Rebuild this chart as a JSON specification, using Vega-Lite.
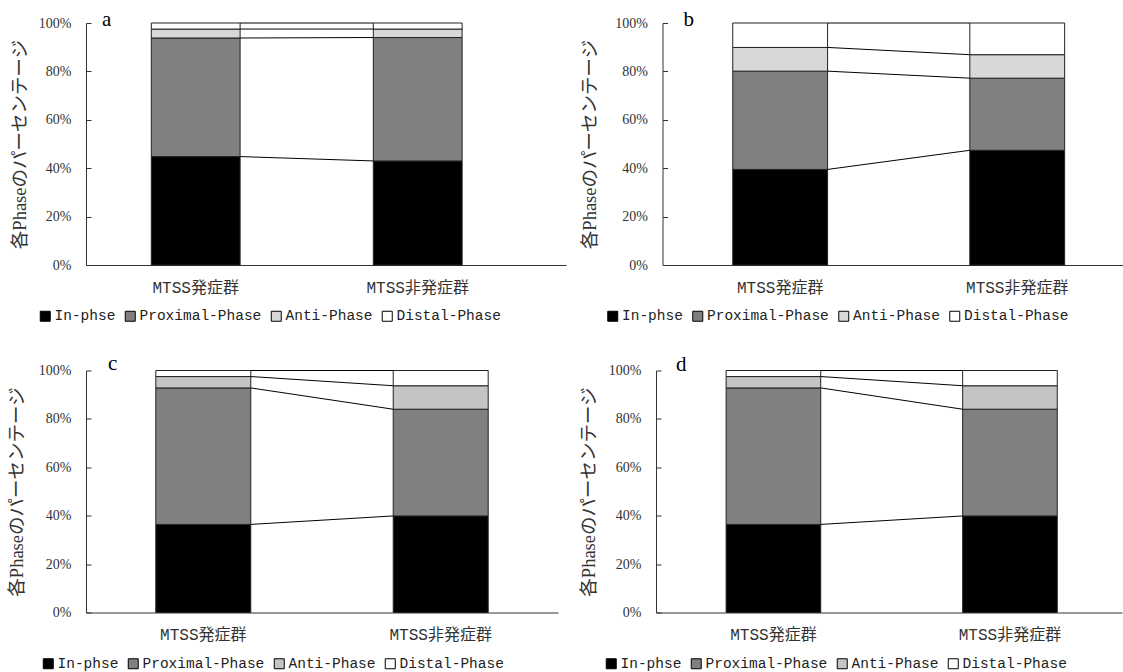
{
  "$schema": "https://vega.github.io/schema/vega-lite/v6.json",
  "background": "white",
  "padding": {"left": 7, "top": 9, "right": 0, "bottom": 0},
  "config": {
    "view": {"stroke": null},
    "axis": {"domainColor": "#333", "tickColor": "#333", "labelColor": "#333", "titleColor": "#333", "grid": false, "titleFontWeight": "normal", "labelFont": "Liberation Serif", "labelFontSize": 14, "titleFont": "Liberation Serif, Noto Sans CJK JP", "titleFontSize": 18.5},
    "axisX": {"ticks": false, "labelFont": "Liberation Mono, Noto Sans CJK JP", "labelFontSize": 16, "labelPadding": 14, "labelAngle": 0},
    "axisY": {"tickSize": -5, "labelPadding": 20},
    "legend": {"orient": "none", "direction": "horizontal", "columns": 4, "symbolType": "square", "symbolSize": 100, "labelFont": "Liberation Mono", "labelFontSize": 14.5, "labelColor": "#222", "columnPadding": 7, "labelOffset": 2, "gridAlign": "none", "padding": 0, "symbolStrokeColor": "#000", "symbolStrokeWidth": 1, "symbolOpacity": 1}
  },
  "datasets": {
    "rows": [
      {"panel": "a", "group": "MTSS発症群", "phase": "In-phse", "k": 1, "value": 44.8},
      {"panel": "a", "group": "MTSS発症群", "phase": "Proximal-Phase", "k": 2, "value": 49.0},
      {"panel": "a", "group": "MTSS発症群", "phase": "Anti-Phase", "k": 3, "value": 3.7},
      {"panel": "a", "group": "MTSS発症群", "phase": "Distal-Phase", "k": 4, "value": 2.5},
      {"panel": "a", "group": "MTSS非発症群", "phase": "In-phse", "k": 1, "value": 43.0},
      {"panel": "a", "group": "MTSS非発症群", "phase": "Proximal-Phase", "k": 2, "value": 51.0},
      {"panel": "a", "group": "MTSS非発症群", "phase": "Anti-Phase", "k": 3, "value": 3.5},
      {"panel": "a", "group": "MTSS非発症群", "phase": "Distal-Phase", "k": 4, "value": 2.5},
      {"panel": "b", "group": "MTSS発症群", "phase": "In-phse", "k": 1, "value": 39.5},
      {"panel": "b", "group": "MTSS発症群", "phase": "Proximal-Phase", "k": 2, "value": 40.6},
      {"panel": "b", "group": "MTSS発症群", "phase": "Anti-Phase", "k": 3, "value": 9.8},
      {"panel": "b", "group": "MTSS発症群", "phase": "Distal-Phase", "k": 4, "value": 10.1},
      {"panel": "b", "group": "MTSS非発症群", "phase": "In-phse", "k": 1, "value": 47.4},
      {"panel": "b", "group": "MTSS非発症群", "phase": "Proximal-Phase", "k": 2, "value": 29.8},
      {"panel": "b", "group": "MTSS非発症群", "phase": "Anti-Phase", "k": 3, "value": 9.7},
      {"panel": "b", "group": "MTSS非発症群", "phase": "Distal-Phase", "k": 4, "value": 13.1},
      {"panel": "c", "group": "MTSS発症群", "phase": "In-phse", "k": 1, "value": 36.4},
      {"panel": "c", "group": "MTSS発症群", "phase": "Proximal-Phase", "k": 2, "value": 56.4},
      {"panel": "c", "group": "MTSS発症群", "phase": "Anti-Phase", "k": 3, "value": 4.7},
      {"panel": "c", "group": "MTSS発症群", "phase": "Distal-Phase", "k": 4, "value": 2.5},
      {"panel": "c", "group": "MTSS非発症群", "phase": "In-phse", "k": 1, "value": 39.9},
      {"panel": "c", "group": "MTSS非発症群", "phase": "Proximal-Phase", "k": 2, "value": 44.1},
      {"panel": "c", "group": "MTSS非発症群", "phase": "Anti-Phase", "k": 3, "value": 9.7},
      {"panel": "c", "group": "MTSS非発症群", "phase": "Distal-Phase", "k": 4, "value": 6.3},
      {"panel": "d", "group": "MTSS発症群", "phase": "In-phse", "k": 1, "value": 36.4},
      {"panel": "d", "group": "MTSS発症群", "phase": "Proximal-Phase", "k": 2, "value": 56.4},
      {"panel": "d", "group": "MTSS発症群", "phase": "Anti-Phase", "k": 3, "value": 4.7},
      {"panel": "d", "group": "MTSS発症群", "phase": "Distal-Phase", "k": 4, "value": 2.5},
      {"panel": "d", "group": "MTSS非発症群", "phase": "In-phse", "k": 1, "value": 39.9},
      {"panel": "d", "group": "MTSS非発症群", "phase": "Proximal-Phase", "k": 2, "value": 44.1},
      {"panel": "d", "group": "MTSS非発症群", "phase": "Anti-Phase", "k": 3, "value": 9.7},
      {"panel": "d", "group": "MTSS非発症群", "phase": "Distal-Phase", "k": 4, "value": 6.3}
    ]
  },
  "resolve": {"scale": {"color": "independent"}, "legend": {"color": "independent"}},
  "align": "none",
  "spacing": 28.5,
  "vconcat": [
    {
      "spacing": 14.5,
      "resolve": {"scale": {"color": "independent"}, "legend": {"color": "independent"}},
      "hconcat": [
        {
          "width": 480, "height": 242,
          "title": {"text": "a", "anchor": "start", "frame": "group", "orient": "top", "offset": -31, "dx": 16, "dy": 0, "baseline": "alphabetic", "font": "Liberation Serif", "fontSize": 21, "fontWeight": "normal", "color": "#000"},
          "data": {"name": "rows"},
          "transform": [
            {"filter": "datum.panel === 'a'"},
            {"stack": "value", "groupby": ["group"], "sort": [{"field": "k", "order": "ascending"}], "as": ["v0", "v1"]}
          ],
          "layer": [
            {
              "mark": {"type": "bar", "stroke": "#222", "strokeWidth": 1},
              "encoding": {
                "x": {"field": "group", "type": "nominal", "scale": {"domain": ["MTSS発症群", "MTSS非発症群"], "paddingInner": 0.6, "paddingOuter": 0.381, "align": 0.386}, "axis": {"title": null}},
                "y": {"field": "v1", "type": "quantitative", "stack": null, "scale": {"domain": [0, 100]}, "axis": {"title": "各Phaseのパーセンテージ", "values": [0, 20, 40, 60, 80, 100], "labelExpr": "datum.value + '%'", "titlePadding": 9}},
                "y2": {"field": "v0"},
                "color": {"field": "phase", "type": "nominal", "scale": {"domain": ["In-phse", "Proximal-Phase", "Anti-Phase", "Distal-Phase"], "range": ["#000000", "#808080", "#d8d8d8", "#ffffff"]}, "legend": {"title": null, "legendX": -48, "legendY": 286}}
              }
            },
            {
              "transform": [{"pivot": "group", "value": "v1", "groupby": ["phase"]}],
              "mark": {"type": "rule", "color": "#000", "strokeWidth": 1},
              "encoding": {
                "x": {"datum": "MTSS発症群", "type": "nominal", "bandPosition": 1},
                "x2": {"datum": "MTSS非発症群", "bandPosition": 0},
                "y": {"field": "MTSS発症群", "type": "quantitative"},
                "y2": {"field": "MTSS非発症群"}
              }
            }
          ]
        },
        {
          "width": 467, "height": 242,
          "title": {"text": "b", "anchor": "start", "frame": "group", "orient": "top", "offset": -31, "dx": 21, "dy": 0, "baseline": "alphabetic", "font": "Liberation Serif", "fontSize": 21, "fontWeight": "normal", "color": "#000"},
          "data": {"name": "rows"},
          "transform": [
            {"filter": "datum.panel === 'b'"},
            {"stack": "value", "groupby": ["group"], "sort": [{"field": "k", "order": "ascending"}], "as": ["v0", "v1"]}
          ],
          "layer": [
            {
              "mark": {"type": "bar", "stroke": "#222", "strokeWidth": 1},
              "encoding": {
                "x": {"field": "group", "type": "nominal", "scale": {"domain": ["MTSS発症群", "MTSS非発症群"], "paddingInner": 0.6, "paddingOuter": 0.285, "align": 0.52}, "axis": {"title": null}},
                "y": {"field": "v1", "type": "quantitative", "stack": null, "scale": {"domain": [0, 100]}, "axis": {"title": "各Phaseのパーセンテージ", "values": [0, 20, 40, 60, 80, 100], "labelExpr": "datum.value + '%'", "titlePadding": 15}},
                "y2": {"field": "v0"},
                "color": {"field": "phase", "type": "nominal", "scale": {"domain": ["In-phse", "Proximal-Phase", "Anti-Phase", "Distal-Phase"], "range": ["#000000", "#808080", "#d8d8d8", "#ffffff"]}, "legend": {"title": null, "legendX": -57, "legendY": 286}}
              }
            },
            {
              "transform": [{"pivot": "group", "value": "v1", "groupby": ["phase"]}],
              "mark": {"type": "rule", "color": "#000", "strokeWidth": 1},
              "encoding": {
                "x": {"datum": "MTSS発症群", "type": "nominal", "bandPosition": 1},
                "x2": {"datum": "MTSS非発症群", "bandPosition": 0},
                "y": {"field": "MTSS発症群", "type": "quantitative"},
                "y2": {"field": "MTSS非発症群"}
              }
            }
          ]
        }
      ]
    },
    {
      "spacing": 21,
      "resolve": {"scale": {"color": "independent"}, "legend": {"color": "independent"}},
      "hconcat": [
        {
          "width": 472, "height": 242,
          "title": {"text": "c", "anchor": "start", "frame": "group", "orient": "top", "offset": -27, "dx": 22, "dy": 0, "baseline": "alphabetic", "font": "Liberation Serif", "fontSize": 21, "fontWeight": "normal", "color": "#000"},
          "data": {"name": "rows"},
          "transform": [
            {"filter": "datum.panel === 'c'"},
            {"stack": "value", "groupby": ["group"], "sort": [{"field": "k", "order": "ascending"}], "as": ["v0", "v1"]}
          ],
          "layer": [
            {
              "mark": {"type": "bar", "stroke": "#222", "strokeWidth": 1},
              "encoding": {
                "x": {"field": "group", "type": "nominal", "scale": {"domain": ["MTSS発症群", "MTSS非発症群"], "paddingInner": 0.6, "paddingOuter": 0.294, "align": 0.5}, "axis": {"title": null}},
                "y": {"field": "v1", "type": "quantitative", "stack": null, "scale": {"domain": [0, 100]}, "axis": {"title": "各Phaseのパーセンテージ", "values": [0, 20, 40, 60, 80, 100], "labelExpr": "datum.value + '%'", "titlePadding": 12}},
                "y2": {"field": "v0"},
                "color": {"field": "phase", "type": "nominal", "scale": {"domain": ["In-phse", "Proximal-Phase", "Anti-Phase", "Distal-Phase"], "range": ["#000000", "#808080", "#c4c4c4", "#ffffff"]}, "legend": {"title": null, "legendX": -45, "legendY": 286}}
              }
            },
            {
              "transform": [{"pivot": "group", "value": "v1", "groupby": ["phase"]}],
              "mark": {"type": "rule", "color": "#000", "strokeWidth": 1},
              "encoding": {
                "x": {"datum": "MTSS発症群", "type": "nominal", "bandPosition": 1},
                "x2": {"datum": "MTSS非発症群", "bandPosition": 0},
                "y": {"field": "MTSS発症群", "type": "quantitative"},
                "y2": {"field": "MTSS非発症群"}
              }
            }
          ]
        },
        {
          "width": 466, "height": 242,
          "title": {"text": "d", "anchor": "start", "frame": "group", "orient": "top", "offset": -28, "dx": 20, "dy": 0, "baseline": "alphabetic", "font": "Liberation Serif", "fontSize": 21, "fontWeight": "normal", "color": "#000"},
          "data": {"name": "rows"},
          "transform": [
            {"filter": "datum.panel === 'd'"},
            {"stack": "value", "groupby": ["group"], "sort": [{"field": "k", "order": "ascending"}], "as": ["v0", "v1"]}
          ],
          "layer": [
            {
              "mark": {"type": "bar", "stroke": "#222", "strokeWidth": 1},
              "encoding": {
                "x": {"field": "group", "type": "nominal", "scale": {"domain": ["MTSS発症群", "MTSS非発症群"], "paddingInner": 0.6, "paddingOuter": 0.285, "align": 0.52}, "axis": {"title": null}},
                "y": {"field": "v1", "type": "quantitative", "stack": null, "scale": {"domain": [0, 100]}, "axis": {"title": "各Phaseのパーセンテージ", "values": [0, 20, 40, 60, 80, 100], "labelExpr": "datum.value + '%'", "titlePadding": 10}},
                "y2": {"field": "v0"},
                "color": {"field": "phase", "type": "nominal", "scale": {"domain": ["In-phse", "Proximal-Phase", "Anti-Phase", "Distal-Phase"], "range": ["#000000", "#808080", "#c4c4c4", "#ffffff"]}, "legend": {"title": null, "legendX": -52, "legendY": 286}}
              }
            },
            {
              "transform": [{"pivot": "group", "value": "v1", "groupby": ["phase"]}],
              "mark": {"type": "rule", "color": "#000", "strokeWidth": 1},
              "encoding": {
                "x": {"datum": "MTSS発症群", "type": "nominal", "bandPosition": 1},
                "x2": {"datum": "MTSS非発症群", "bandPosition": 0},
                "y": {"field": "MTSS発症群", "type": "quantitative"},
                "y2": {"field": "MTSS非発症群"}
              }
            }
          ]
        }
      ]
    }
  ]
}
